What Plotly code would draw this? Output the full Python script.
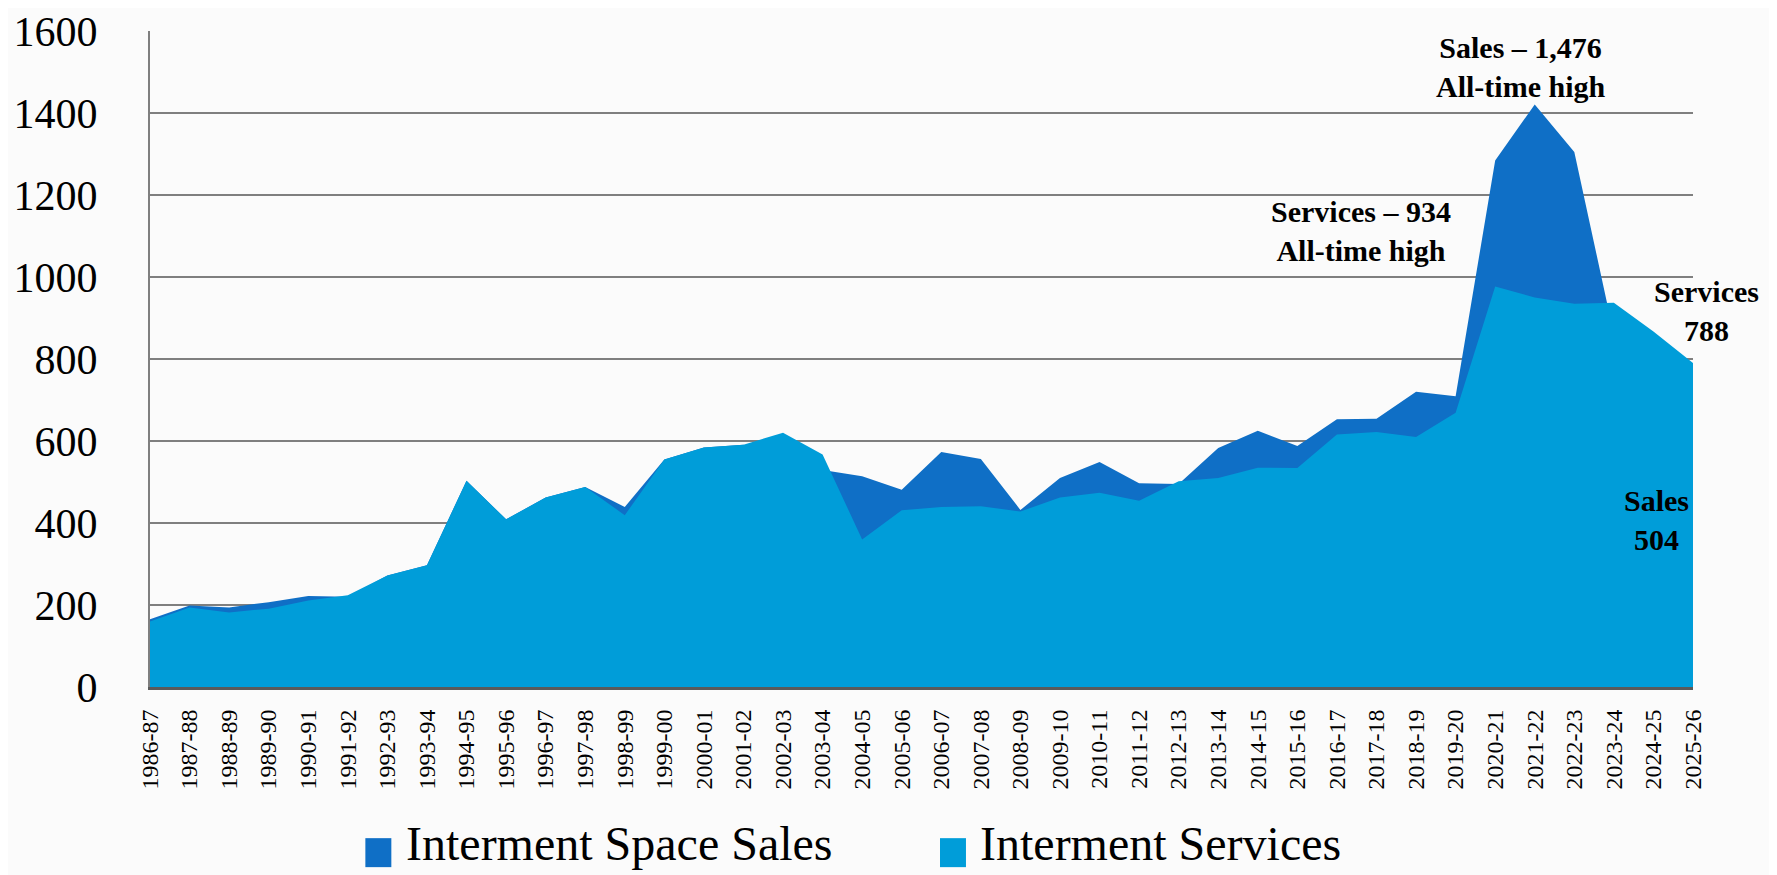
import plotly.graph_objects as go

years = [
    "1986-87", "1987-88", "1988-89", "1989-90", "1990-91", "1991-92", "1992-93", "1993-94",
    "1994-95", "1995-96", "1996-97", "1997-98", "1998-99", "1999-00", "2000-01", "2001-02",
    "2002-03", "2003-04", "2004-05", "2005-06", "2006-07", "2007-08", "2008-09", "2009-10",
    "2010-11", "2011-12", "2012-13", "2013-14", "2014-15", "2015-16", "2016-17", "2017-18",
    "2018-19", "2019-20", "2020-21", "2021-22", "2022-23", "2023-24", "2024-25", "2025-26",
]

space_sales = [
    165, 199, 194, 207, 222, 220, 272, 297, 503, 409, 462, 488, 439, 555, 584, 591,
    560, 529, 514, 481, 573, 556, 432, 510, 549, 497, 495, 583, 625, 588, 653, 654,
    720, 709, 1284, 1421, 1305, 860, 620, 504,
]

services = [
    160, 194, 182, 191, 211, 224, 272, 297, 503, 409, 462, 488, 419, 555, 584, 591,
    620, 567, 360, 431, 439, 441, 428, 462, 474, 454, 502, 510, 535, 534, 616, 622,
    610, 669, 977, 950, 935, 937, 867, 790,
]

y_ticks = [0, 200, 400, 600, 800, 1000, 1200, 1400, 1600]

DARK = "#0F6FC6"
LIGHT = "#009DD9"
FONT = "Constantia, 'Liberation Serif', 'DejaVu Serif', serif"

fig = go.Figure()
fig.add_trace(go.Scatter(
    x=years, y=space_sales, name="Interment Space Sales", mode="lines",
    line=dict(width=0, color=DARK), fill="tozeroy", fillcolor=DARK, showlegend=False,
    hoverinfo="x+y+name",
))
fig.add_trace(go.Scatter(
    x=years, y=services, name="Interment Services", mode="lines",
    line=dict(width=0, color=LIGHT), fill="tozeroy", fillcolor=LIGHT, showlegend=False,
    hoverinfo="x+y+name",
))

# page offset from the default body margin of the browser
OFF = 8
VW, VH = 1777, 875
FW, FH = VW - OFF, VH - OFF
# plot-area geometry in window pixels
L, R, T, B = 149.5, 1693.5, 30.6, 686.8
W, H = R - L, B - T


def px(x):
    return (x - L) / W


def py(y):
    return (B - y) / H


ann_font = dict(family=FONT, size=30, color="black")
annotations = [
    dict(text="<b>Sales – 1,476<br>All-time high</b>", x=px(1521), y=py(67)),
    dict(text="<b>Services – 934<br>All-time high</b>", x=px(1361), y=py(231)),
    dict(text="<b>Services<br>788</b>", x=px(1707), y=py(311)),
    dict(text="<b>Sales<br>504</b>", x=px(1657), y=py(520)),
]
for a in annotations:
    a.update(xref="paper", yref="paper", showarrow=False, xanchor="center",
             yanchor="middle", font=ann_font)

# legend drawn manually (large square swatches)
legend_items = [("Interment Space Sales", DARK, 365, 404), ("Interment Services", LIGHT, 940, 978)]
shapes = []
for label, col, sx, tx in legend_items:
    shapes.append(dict(type="rect", xref="paper", yref="paper",
                       x0=px(sx), x1=px(sx + 26), y0=py(867), y1=py(838),
                       fillcolor=col, line=dict(width=0)))
    annotations.append(dict(text=label, xref="paper", yref="paper", x=px(tx), y=py(843),
                            xanchor="left", yanchor="middle", showarrow=False,
                            font=dict(family=FONT, size=48, color="black")))

fig.update_layout(
    width=FW, height=FH,
    margin=dict(l=L - OFF, r=VW - R, t=T - OFF, b=VH - B, pad=0, autoexpand=False),
    paper_bgcolor="#fbfbfb", plot_bgcolor="#fbfbfb",
    font=dict(family=FONT, color="black"),
    annotations=annotations, shapes=shapes,
    showlegend=False,
)
fig.update_xaxes(
    type="category", categoryorder="array", categoryarray=years, automargin=False,
    range=[0, len(years) - 1], tickangle=-90, tickfont=dict(size=24, family=FONT, color="black"),
    showgrid=False, showline=True, linecolor="#5a5a5a", linewidth=3,
    ticks="outside", ticklen=10, tickcolor="rgba(0,0,0,0)",
)
fig.update_yaxes(
    range=[0, 1600], tickvals=y_ticks, tickfont=dict(size=42, family=FONT, color="black"),
    showgrid=True, gridcolor="#7f7f7f", gridwidth=2, zeroline=False, automargin=False,
    showline=True, linecolor="#7f7f7f", linewidth=2,
    ticks="outside", ticklen=42, tickcolor="rgba(0,0,0,0)",
)

fig.write_html("out.html")
